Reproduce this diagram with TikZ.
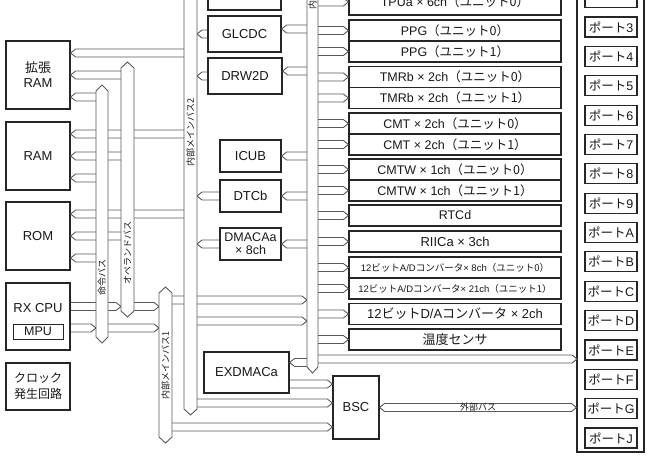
\documentclass[tikz,border=0pt]{standalone}
\usepackage{fontspec}
\setmainfont{Liberation Sans}
\newfontfamily\jp{Noto Sans CJK JP}
\usetikzlibrary{calc,positioning}

\tikzset{
  blk/.style={draw=black!85, line width=1.2pt, fill=white, inner sep=0pt, align=center,
    font=\fontsize{13}{15}\selectfont},
  per/.style={blk, minimum width=212pt, minimum height=21pt, font=\fontsize{12.5}{14}\selectfont},
  port/.style={blk, line width=1.1pt, minimum width=52pt, minimum height=20pt, font=\fontsize{12.5}{14}\selectfont},
  busline/.style={draw=black!65, line width=0.9pt},
  busbody/.style={busline, fill=white},
  buslbl/.style={rotate=90, inner sep=0pt, font=\jp\fontsize{9}{9}\selectfont},
}

% bus arrow: tail #1, tip #2
\newcommand\busto[2]{%
  \path (#1) coordinate (bA) (#2) coordinate (bB);
  \path ($(bB)!5pt!(bA)$) coordinate (bS);
  \draw[busline] ($(bA)!4pt!90:(bB)$) -- ($(bS)!4pt!-90:(bA)$) -- (bB)
    -- ($(bS)!4pt!90:(bA)$) -- ($(bA)!4pt!-90:(bB)$);}
% bus arrow, tips at both ends
\newcommand\busboth[2]{%
  \path (#1) coordinate (bA) (#2) coordinate (bB);
  \path ($(bA)!5pt!(bB)$) coordinate (bSa) ($(bB)!5pt!(bA)$) coordinate (bSb);
  \draw[busline] (bA) -- ($(bSa)!4pt!90:(bB)$) -- ($(bSb)!4pt!-90:(bA)$) -- (bB)
    -- ($(bSb)!4pt!90:(bA)$) -- ($(bSa)!4pt!-90:(bB)$) -- cycle;}
% vertical bus: x left, x right, y top, y bottom
\newcommand\vbus[4]{%
  \filldraw[busbody] (#1,#3+6) -- ({(#1+#2)/2},#3) -- (#2,#3+6) -- (#2,#4-6)
    -- ({(#1+#2)/2},#4) -- (#1,#4-6) -- cycle;}

\begin{document}
\begin{tikzpicture}[x=1pt,y=-1pt,every node/.append style={text=black!90}]
\useasboundingbox (0,0) rectangle (650,460);
\clip (0,0) rectangle (650,460);

% bus edges
\coordinate (ins) at (96,0);   \coordinate (insE) at (108,0);
\coordinate (op) at (121,0);   \coordinate (opE) at (134,0);
\coordinate (mb1) at (159,0);  \coordinate (mb1E) at (172,0);
\coordinate (mb2) at (184,0);  \coordinate (mb2E) at (197,0);
\coordinate (pb) at (307,0);   \coordinate (pbE) at (318,0);

% left side
\node[blk, minimum width=64pt, minimum height=68pt] (xram) at (38,75) {{\jp 拡張}\\RAM};
\node[blk, minimum width=64pt, minimum height=68pt] (ram) at (38,156) {RAM};
\node[blk, minimum width=64pt, minimum height=68pt] (rom) at (38,236) {ROM};
\node[blk, minimum width=64pt, minimum height=67pt] (cpu) at (38,316.5) {};
\node[font=\fontsize{13}{15}\selectfont] (cpux) at (38,308.5) {RX CPU};
\node[blk, line width=1pt, minimum width=50pt, minimum height=15pt, font=\fontsize{12.5}{14}\selectfont] (mpu) at (38,331.5) {MPU};
\node[blk, minimum width=64pt, minimum height=47pt, font=\jp\fontsize{12}{16}\selectfont] (clk) at (38,386.5) {クロック\\発生回路};

% masters
\node[blk, minimum width=73pt, minimum height=30pt] (topblk) at (244.5,-5) {};
\node[blk, minimum width=73pt, minimum height=36pt] (glcdc) at (244.5,34) {GLCDC};
\node[blk, minimum width=74pt, minimum height=36pt] (drw) at (245,76) {DRW2D};
\node[blk, minimum width=61pt, minimum height=32pt] (icub) at (250.5,156) {ICUB};
\node[blk, minimum width=61pt, minimum height=32pt] (dtc) at (250.5,196) {DTCb};
\node[blk, minimum width=61pt, minimum height=32pt, font=\fontsize{12.5}{13}\selectfont] (dmac) at (250.5,244) {DMACAa\\× 8ch};
\node[blk, minimum width=85pt, minimum height=41pt] (exdmac) at (246.5,372.5) {EXDMACa};
\node[blk, minimum width=46pt, minimum height=63pt] (bsc) at (356,407.5) {BSC};

% peripherals
\node[per, minimum height=26pt] (tpu) at (455,2) {TPUa × 6ch{\jp （ユニット0）}};
\node[per] (pp0) at (455,30.5) {PPG{\jp （ユニット0）}};
\node[per] (pp1) at (455,51.5) {PPG{\jp （ユニット1）}};
\node[per] (tm0) at (455,77) {TMRb × 2ch{\jp （ユニット0）}};
\node[per] (tm1) at (455,98) {TMRb × 2ch{\jp （ユニット1）}};
\node[per] (cm0) at (455,123.5) {CMT × 2ch{\jp （ユニット0）}};
\node[per] (cm1) at (455,144.5) {CMT × 2ch{\jp （ユニット1）}};
\node[per] (cw0) at (455,169.5) {CMTW × 1ch{\jp （ユニット0）}};
\node[per] (cw1) at (455,190.5) {CMTW × 1ch{\jp （ユニット1）}};
\node[per] (rtc) at (455,215.5) {RTCd};
\node[per, font=\fontsize{13}{14}\selectfont] (riic) at (455,241.5) {RIICa × 3ch};
\node[per, font=\fontsize{9.5}{11}\selectfont] (ad0) at (455,267.5) {12{\jp ビット}A/D{\jp コンバータ}× 8ch{\jp （ユニット0）}};
\node[per, font=\fontsize{9.5}{11}\selectfont] (ad1) at (455,288.5) {12{\jp ビット}A/D{\jp コンバータ}× 21ch{\jp （ユニット1）}};
\node[per, font=\fontsize{13}{14}\selectfont] (da) at (455,314) {12{\jp ビット}D/A{\jp コンバータ} × 2ch};
\node[per, font=\jp\fontsize{13}{14}\selectfont] (tmp) at (455,339.5) {温度センサ};

% ports
\node[blk, line width=1.2pt, minimum width=67pt, minimum height=482pt] (pcol) at (610.5,211) {};
\node[port] (pt2) at (611,-2.4) {};
\foreach \p [count=\i] in {3,4,5,6,7,8,9,A,B,C,D,E,F,G,J}
  \node[port] (pt\p) at (611,{27+29.36*(\i-1)}) {{\jp ポート}\p};
\coordinate (pin) at (577,359);

% memories
\foreach \m in {xram,ram,rom}{
  \coordinate (\m1) at ([yshift=22pt]\m.east);
  \coordinate (\m3) at ([yshift=-22pt]\m.east);
  \busto{mb2 |- \m1}{\m1}
  \busto{op |- \m.east}{\m.east}
  \busto{ins |- \m3}{\m3}
}
% cpu
\coordinate (cpu1) at ([yshift=10pt]cpu.east);
\coordinate (cpu2) at ([yshift=-11.5pt]cpu.east);
\busto{cpu1}{op |- cpu1}
\busto{opE |- cpu1}{mb1 |- cpu1}
\busto{cpu2}{ins |- cpu2}
\busto{insE |- cpu2}{mb1 |- cpu2}

% masters to main bus 2
\foreach \m in {glcdc,drw,dtc,dmac}
  \busto{\m.west}{mb2E |- \m.west};
% peripheral bus to masters
\coordinate (glcdcR) at ([yshift=5pt]glcdc.east);
\coordinate (drwR) at ([yshift=5pt]drw.east);
\coordinate (exR) at ([yshift=10pt]exdmac.east);
\coordinate (exB) at ([yshift=-11.5pt]exdmac.east);
\foreach \m in {glcdcR,drwR,icub.east,dtc.east,dmac.east,exR}
  \busto{pb |- \m}{\m};
\busto{exB}{bsc.west |- exB}

% main buses onwards
\coordinate (m1p) at (172,300);
\coordinate (m2p) at (197,321);
\coordinate (m2b) at (197,403);
\coordinate (m1b) at (172,427);
\busto{m1p}{pb |- m1p}
\busto{m2p}{pb |- m2p}
\busto{m2b}{bsc.west |- m2b}
\busto{m1b}{bsc.west |- m1b}

% peripheral bus to peripherals
\foreach \n in {tpu,pp0,pp1,tm0,tm1,cm0,cm1,cw0,cw1,rtc,riic,ad0,ad1,da,tmp}
  \busto{pbE |- \n.west}{\n.west};
\busto{pbE |- pin}{pin}

% external bus
\busboth{bsc.east}{pcol.west |- bsc.east}
\node[font=\jp\fontsize{9}{9}\selectfont] (ext) at ($(bsc.east)!0.5!(pcol.west |- bsc.east)$) {外部バス};

% buses
\vbus{96}{108}{85}{343}
\vbus{121}{134}{62}{317}
\vbus{159}{172}{287}{443}
\vbus{184}{197}{-30}{415}
\vbus{307}{318}{-30}{373}
\node[buslbl] (insl) at (102,277) {命令バス};
\node[buslbl] (opl) at (127.5,253) {オペランドバス};
\node[buslbl] (mb1l) at (165.5,365) {内部メインバス1};
\node[buslbl] (mb2l) at (190.5,133) {内部メインバス2};
\node[buslbl, anchor=west] (pbl) at (312.5,10) {内部周辺バス};
\end{tikzpicture}
\end{document}
